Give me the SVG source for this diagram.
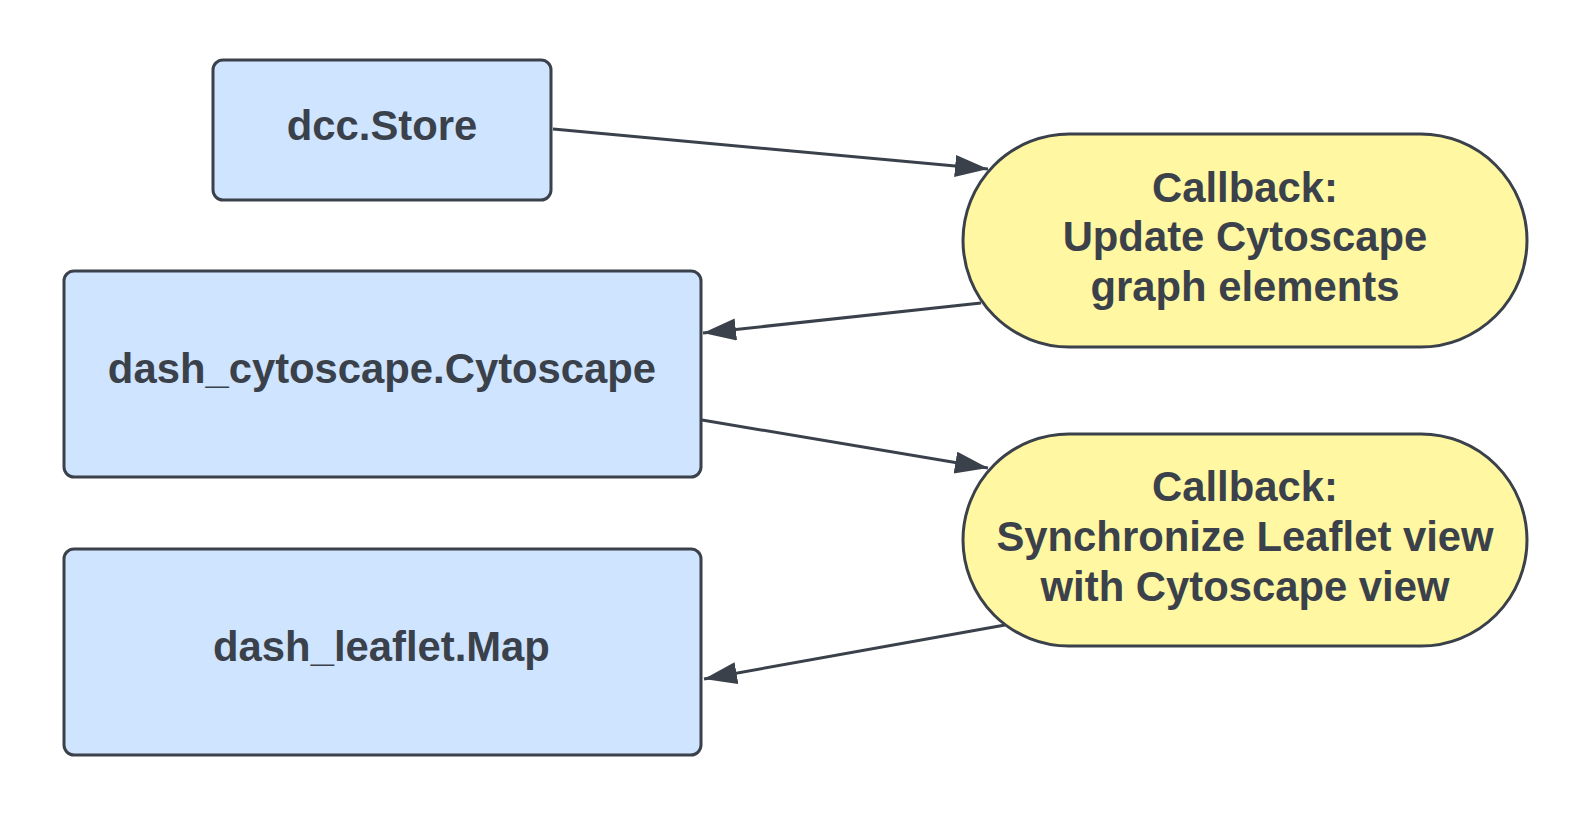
<svg xmlns="http://www.w3.org/2000/svg" width="1583" height="829" viewBox="0 0 1583 829">
  <style>
    .box { fill: #cfe4ff; stroke: #3a414a; stroke-width: 3; }
    .cb { fill: #fff7a1; stroke: #3a414a; stroke-width: 3; }
    .lbl { font-family: "Liberation Sans", Arial, sans-serif; font-weight: bold; font-size: 41.8px; fill: #3a414a; text-anchor: middle; }
    .edge { stroke: #3a414a; stroke-width: 3; fill: none; marker-end: url(#arrow); }
  </style>
  <defs>
    <marker id="arrow" markerUnits="userSpaceOnUse" markerWidth="34" markerHeight="24" refX="33" refY="11" orient="auto">
      <path d="M0,0 L33,11 L0,22 z" fill="#3a414a"/>
    </marker>
  </defs>
  <rect width="1583" height="829" fill="#ffffff"/>

  <g id="connectors">
    <line class="edge" x1="553" y1="129" x2="988" y2="169"/>
    <line class="edge" x1="981" y1="303" x2="703" y2="333"/>
    <line class="edge" x1="702" y1="420" x2="988" y2="468"/>
    <line class="edge" x1="1005" y1="625" x2="704" y2="679"/>
  </g>

  <g id="dcc-store">
    <rect class="box" x="213" y="60" width="338" height="140" rx="10"/>
    <text class="lbl" x="382" y="140">dcc.Store</text>
  </g>

  <g id="dash-cytoscape">
    <rect class="box" x="64" y="271" width="637" height="206" rx="10"/>
    <text class="lbl" x="382" y="383">dash_cytoscape.Cytoscape</text>
  </g>

  <g id="dash-leaflet">
    <rect class="box" x="64" y="549" width="637" height="206" rx="10"/>
    <text class="lbl" x="381.5" y="661">dash_leaflet.Map</text>
  </g>

  <g id="callback-update">
    <rect class="cb" x="963" y="134" width="564" height="213" rx="106.5"/>
    <text class="lbl" x="1245" y="201.5">Callback:</text>
    <text class="lbl" x="1245" y="251">Update Cytoscape</text>
    <text class="lbl" x="1245" y="301">graph elements</text>
  </g>

  <g id="callback-sync">
    <rect class="cb" x="963" y="434" width="564" height="212" rx="106"/>
    <text class="lbl" x="1245" y="501">Callback:</text>
    <text class="lbl" x="1245" y="551">Synchronize Leaflet view</text>
    <text class="lbl" x="1245" y="601">with Cytoscape view</text>
  </g>
</svg>
